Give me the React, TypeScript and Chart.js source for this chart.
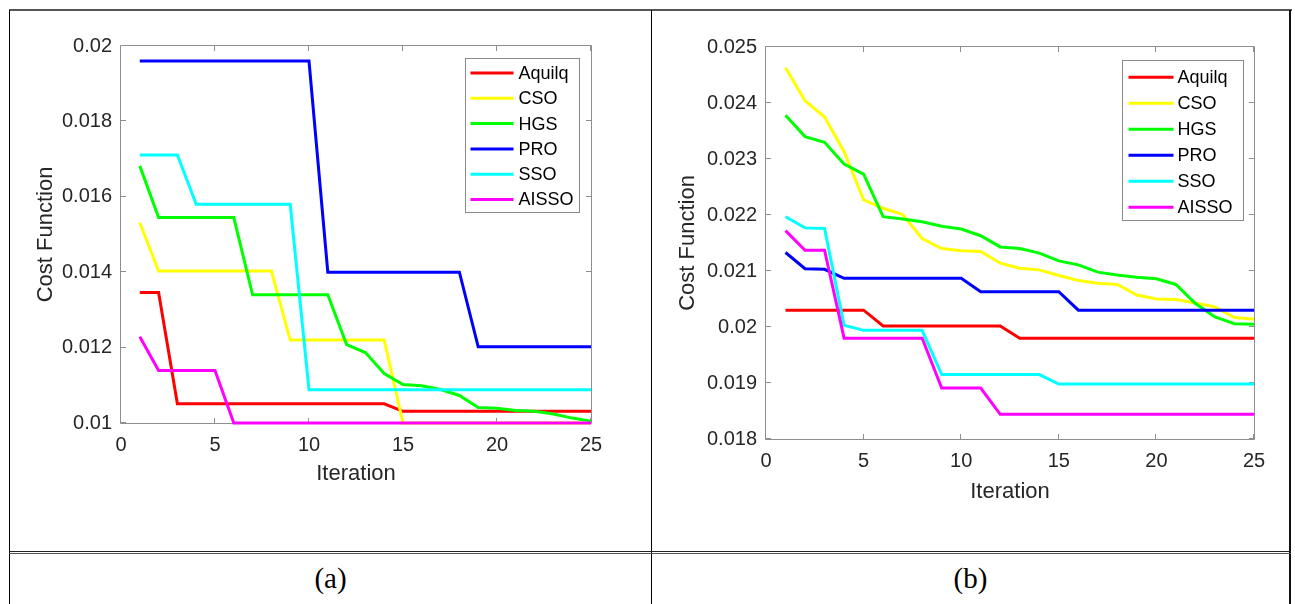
import React, { useEffect, useRef } from "react";
import { Chart, registerables } from "chart.js";

Chart.register(...registerables);

const ITERATIONS = [1, 2, 3, 4, 5, 6, 7, 8, 9, 10, 11, 12, 13, 14, 15, 16, 17, 18, 19, 20, 21, 22, 23, 24, 25];
const SERIES_NAMES = ["Aquilq", "CSO", "HGS", "PRO", "SSO", "AISSO"];
const SERIES_COLORS = ["#ff0000", "#ffff00", "#00ff00", "#0000ff", "#00ffff", "#ff00ff"];
const X_TICKS = [0, 5, 10, 15, 20, 25];
const A_Y_TICKS = [0.01, 0.012, 0.014, 0.016, 0.018, 0.02];
const B_Y_TICKS = [0.018, 0.019, 0.02, 0.021, 0.022, 0.023, 0.024, 0.025];
const CAPTIONS = ["(a)", "(b)"];

// Panel (a)
const A_AQUILQ = [0.01346, 0.01346, 0.01051, 0.01051, 0.01051, 0.01051, 0.01051, 0.01051, 0.01051, 0.01051, 0.01051, 0.01051, 0.01051, 0.01051, 0.01031, 0.01031, 0.01031, 0.01031, 0.01031, 0.01031, 0.01031, 0.01031, 0.01031, 0.01031, 0.01031];
const A_CSO = [0.01531, 0.01403, 0.01403, 0.01403, 0.01403, 0.01403, 0.01403, 0.01403, 0.0122, 0.0122, 0.0122, 0.0122, 0.0122, 0.0122, 0.01, 0.01, 0.01, 0.01, 0.01, 0.01, 0.01, 0.01, 0.01, 0.01, 0.01];
const A_HGS = [0.01682, 0.01545, 0.01545, 0.01545, 0.01545, 0.01545, 0.0134, 0.0134, 0.0134, 0.0134, 0.0134, 0.01208, 0.01187, 0.01131, 0.01102, 0.01099, 0.01089, 0.01073, 0.01041, 0.01039, 0.01033, 0.01031, 0.01024, 0.01013, 0.01005];
const A_PRO = [0.0196, 0.0196, 0.0196, 0.0196, 0.0196, 0.0196, 0.0196, 0.0196, 0.0196, 0.0196, 0.014, 0.014, 0.014, 0.014, 0.014, 0.014, 0.014, 0.014, 0.01202, 0.01202, 0.01202, 0.01202, 0.01202, 0.01202, 0.01202];
const A_SSO = [0.01711, 0.01711, 0.01711, 0.0158, 0.0158, 0.0158, 0.0158, 0.0158, 0.0158, 0.01088, 0.01088, 0.01088, 0.01088, 0.01088, 0.01088, 0.01088, 0.01088, 0.01088, 0.01088, 0.01088, 0.01088, 0.01088, 0.01088, 0.01088, 0.01088];
const A_AISSO = [0.01229, 0.01139, 0.01139, 0.01139, 0.01139, 0.01, 0.01, 0.01, 0.01, 0.01, 0.01, 0.01, 0.01, 0.01, 0.01, 0.01, 0.01, 0.01, 0.01, 0.01, 0.01, 0.01, 0.01, 0.01, 0.01];

// Panel (b)
const B_AQUILQ = [0.0203, 0.0203, 0.0203, 0.0203, 0.0203, 0.02002, 0.02002, 0.02002, 0.02002, 0.02002, 0.02002, 0.02002, 0.0198, 0.0198, 0.0198, 0.0198, 0.0198, 0.0198, 0.0198, 0.0198, 0.0198, 0.0198, 0.0198, 0.0198, 0.0198];
const B_CSO = [0.02463, 0.02404, 0.02375, 0.02313, 0.02227, 0.02212, 0.02201, 0.02158, 0.0214, 0.02136, 0.02135, 0.02114, 0.02105, 0.02102, 0.02092, 0.02083, 0.02078, 0.02076, 0.02057, 0.0205, 0.02049, 0.02043, 0.02036, 0.02017, 0.02014];
const B_HGS = [0.02378, 0.0234, 0.0233, 0.02291, 0.02273, 0.02197, 0.02193, 0.02188, 0.0218, 0.02175, 0.02163, 0.02143, 0.0214, 0.02132, 0.02118, 0.02111, 0.02098, 0.02093, 0.02089, 0.02086, 0.02076, 0.02042, 0.02018, 0.02006, 0.02005];
const B_PRO = [0.02133, 0.02104, 0.02103, 0.02087, 0.02087, 0.02087, 0.02087, 0.02087, 0.02087, 0.02087, 0.02063, 0.02063, 0.02063, 0.02063, 0.02063, 0.0203, 0.0203, 0.0203, 0.0203, 0.0203, 0.0203, 0.0203, 0.0203, 0.0203, 0.0203];
const B_SSO = [0.02197, 0.02177, 0.02176, 0.02003, 0.01994, 0.01994, 0.01994, 0.01994, 0.01915, 0.01915, 0.01915, 0.01915, 0.01915, 0.01915, 0.01898, 0.01898, 0.01898, 0.01898, 0.01898, 0.01898, 0.01898, 0.01898, 0.01898, 0.01898, 0.01898];
const B_AISSO = [0.02172, 0.02137, 0.02137, 0.0198, 0.0198, 0.0198, 0.0198, 0.0198, 0.01891, 0.01891, 0.01891, 0.01844, 0.01844, 0.01844, 0.01844, 0.01844, 0.01844, 0.01844, 0.01844, 0.01844, 0.01844, 0.01844, 0.01844, 0.01844, 0.01844];

const A_SERIES = [A_AQUILQ, A_CSO, A_HGS, A_PRO, A_SSO, A_AISSO];
const B_SERIES = [B_AQUILQ, B_CSO, B_HGS, B_PRO, B_SSO, B_AISSO];

const FONT = "'Liberation Sans', Arial, Helvetica, sans-serif";
const AXIS_COLOR = "#8e8e8e";
const TEXT_COLOR = "#262626";

const matlabAxes = {
  id: "matlabAxes",
  beforeDatasetsDraw(chart: any) {
    const { ctx, chartArea } = chart;
    const { left, right, top, bottom } = chartArea;
    const xs = chart.scales.x;
    const ys = chart.scales.y;
    const tl = 5;
    ctx.save();
    ctx.strokeStyle = AXIS_COLOR;
    ctx.lineWidth = 1;
    ctx.beginPath();
    ctx.rect(Math.round(left) - 0.5, Math.round(top) - 0.5, Math.round(right - left) + 1, Math.round(bottom - top) + 1);
    ctx.stroke();
    ctx.beginPath();
    xs.ticks.forEach((t: any) => {
      const px = Math.round(xs.getPixelForValue(t.value)) - 0.5;
      ctx.moveTo(px, bottom);
      ctx.lineTo(px, bottom - tl);
      ctx.moveTo(px, top);
      ctx.lineTo(px, top + tl);
    });
    ys.ticks.forEach((t: any) => {
      const py = Math.round(ys.getPixelForValue(t.value)) - 0.5;
      ctx.moveTo(left, py);
      ctx.lineTo(left + tl, py);
      ctx.moveTo(right, py);
      ctx.lineTo(right - tl, py);
    });
    ctx.stroke();
    ctx.restore();
  },
};

const boxLegend = {
  id: "boxLegend",
  afterDraw(chart: any, _args: any, opts: any) {
    const { ctx, chartArea } = chart;
    const bx = Math.round(chartArea.right - opts.rightGap - opts.width) + 0.5;
    const by = Math.round(chartArea.top + opts.topGap) + 0.5;
    ctx.save();
    ctx.fillStyle = "#ffffff";
    ctx.fillRect(bx, by, opts.width, opts.height);
    ctx.strokeStyle = "#8a8a8a";
    ctx.lineWidth = 1;
    ctx.strokeRect(bx, by, opts.width, opts.height);
    ctx.font = `${opts.fontSize}px ${FONT}`;
    ctx.textBaseline = "middle";
    ctx.textAlign = "left";
    chart.data.datasets.forEach((ds: any, i: number) => {
      const cy = by + opts.firstRow + i * opts.rowGap;
      ctx.strokeStyle = ds.borderColor;
      ctx.lineWidth = 3;
      ctx.beginPath();
      ctx.moveTo(bx + opts.lineStart, cy);
      ctx.lineTo(bx + opts.lineEnd, cy);
      ctx.stroke();
      ctx.fillStyle = "#000000";
      ctx.fillText(ds.label, bx + opts.textX, cy + 1);
    });
    ctx.restore();
  },
};

type PanelCfg = {
  series: number[][];
  yMin: number;
  yMax: number;
  yTicks: number[];
  left: number;
  top: number;
  width: number;
  height: number;
  padTop: number;
  padRight: number;
  yAxisW: number;
  xAxisH: number;
  yTitlePad: number;
  xTitlePad: number;
  legend: any;
};

function Panel({ cfg }: { cfg: PanelCfg }) {
  const ref = useRef<HTMLCanvasElement | null>(null);
  useEffect(() => {
    if (!ref.current) return;
    const datasets = cfg.series.map((vals, i) => ({
      label: SERIES_NAMES[i],
      data: ITERATIONS.map((it, k) => ({ x: it, y: vals[k] })),
      borderColor: SERIES_COLORS[i],
      backgroundColor: SERIES_COLORS[i],
      borderWidth: 3,
      pointRadius: 0,
      tension: 0,
      fill: false,
      clip: false as any,
      order: SERIES_NAMES.length - 1 - i,
    }));
    const tickFont = { family: FONT, size: 20 };
    const titleFont = { family: FONT, size: 22 };
    const chart = new Chart(ref.current, {
      type: "line",
      data: { datasets },
      plugins: [matlabAxes, boxLegend],
      options: {
        animation: false,
        responsive: false,
        maintainAspectRatio: false,
        devicePixelRatio: 1,
        layout: { padding: { left: 0, top: cfg.padTop, right: cfg.padRight, bottom: 0 } },
        plugins: {
          legend: { display: false },
          tooltip: { enabled: false },
          boxLegend: cfg.legend,
        } as any,
        scales: {
          x: {
            type: "linear",
            min: 0,
            max: 25,
            grid: { display: false, drawTicks: false },
            border: { display: false },
            afterBuildTicks: (s: any) => {
              s.ticks = X_TICKS.map((v) => ({ value: v }));
            },
            ticks: { font: tickFont, color: TEXT_COLOR, padding: 10, maxRotation: 0, autoSkip: false },
            title: { display: true, text: "Iteration", font: titleFont, color: TEXT_COLOR, padding: { top: 0, bottom: cfg.xTitlePad } },
            afterFit: (s: any) => {
              s.height = cfg.xAxisH;
            },
          },
          y: {
            type: "linear",
            min: cfg.yMin,
            max: cfg.yMax,
            grid: { display: false, drawTicks: false },
            border: { display: false },
            afterBuildTicks: (s: any) => {
              s.ticks = cfg.yTicks.map((v) => ({ value: v }));
            },
            ticks: {
              font: tickFont,
              color: TEXT_COLOR,
              padding: 9,
              autoSkip: false,
              callback: (v: any) => String(+Number(v).toFixed(4)),
            },
            title: { display: true, text: "Cost Function", font: titleFont, color: TEXT_COLOR, padding: { top: cfg.yTitlePad, bottom: 0 } },
            afterFit: (s: any) => {
              s.width = cfg.yAxisW;
            },
          },
        },
      } as any,
    });
    return () => chart.destroy();
  }, [cfg]);
  return (
    <canvas
      ref={ref}
      width={cfg.width}
      height={cfg.height}
      style={{ position: "absolute", left: cfg.left, top: cfg.top, width: cfg.width, height: cfg.height }}
    />
  );
}

const PANEL_A: PanelCfg = {
  series: A_SERIES,
  yMin: 0.01,
  yMax: 0.02,
  yTicks: A_Y_TICKS,
  left: 12,
  top: 14,
  width: 636,
  height: 534,
  padTop: 32,
  padRight: 57,
  yAxisW: 109,
  xAxisH: 125,
  yTitlePad: 21,
  xTitlePad: 61,
  legend: { width: 114, height: 154, rightGap: 12, topGap: 12, firstRow: 14.5, rowGap: 25.3, lineStart: 5, lineEnd: 48, textX: 53, fontSize: 18 },
};

const PANEL_B: PanelCfg = {
  series: B_SERIES,
  yMin: 0.018,
  yMax: 0.025,
  yTicks: B_Y_TICKS,
  left: 655,
  top: 14,
  width: 630,
  height: 534,
  padTop: 33,
  padRight: 31,
  yAxisW: 111,
  xAxisH: 109,
  yTitlePad: 20,
  xTitlePad: 43,
  legend: { width: 121, height: 160, rightGap: 11, topGap: 13, firstRow: 16.7, rowGap: 26, lineStart: 6, lineEnd: 51, textX: 55, fontSize: 18 },
};

const line = (left: number, top: number, width: number, height: number, color: string) => (
  <div style={{ position: "absolute", left, top, width, height, background: color }} />
);

export default function App() {
  return (
    <div style={{ position: "fixed", left: 0, top: 0, width: 1295, height: 604, background: "#ffffff", overflow: "hidden" }}>
      {line(9, 9, 1283, 2, "#555555")}
      {line(9, 10, 1, 594, "#000000")}
      {line(651, 10, 1, 594, "#000000")}
      {line(1289, 10, 2, 594, "#111111")}
      {line(9, 551, 1282, 1, "#222222")}
      {line(9, 553, 1282, 1, "#555555")}
      <Panel cfg={PANEL_A} />
      <Panel cfg={PANEL_B} />
      {CAPTIONS.map((c, i) => (
        <div
          key={c}
          style={{
            position: "absolute",
            left: i === 0 ? 10 : 652,
            width: i === 0 ? 641 : 637,
            top: 561,
            height: 34,
            lineHeight: "34px",
            textAlign: "center",
            fontFamily: "'Liberation Serif', 'Times New Roman', serif",
            fontSize: 29,
            color: "#000",
          }}
        >
          {c}
        </div>
      ))}
    </div>
  );
}
